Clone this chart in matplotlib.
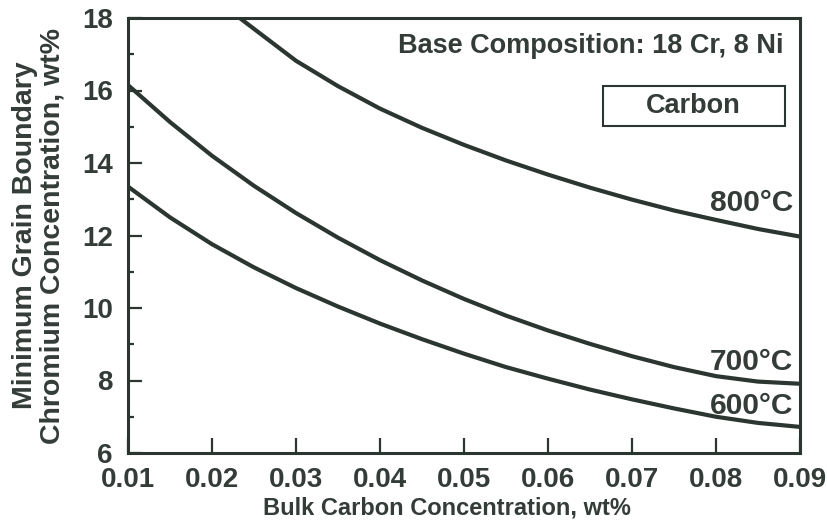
import matplotlib
matplotlib.use("Agg")
import matplotlib.pyplot as plt
from matplotlib.patches import Rectangle
from matplotlib.ticker import MultipleLocator

# ---- data ----
x_800 = [0.0233, 0.025, 0.03, 0.035, 0.04, 0.045, 0.05, 0.055, 0.06, 0.065, 0.07, 0.075, 0.08, 0.085, 0.09]
y_800 = [18.0, 17.7, 16.82, 16.12, 15.5, 14.97, 14.5, 14.07, 13.68, 13.32, 12.99, 12.69, 12.43, 12.18, 11.97]

x_700 = [0.01, 0.015, 0.02, 0.025, 0.03, 0.035, 0.04, 0.045, 0.05, 0.055, 0.06, 0.065, 0.07, 0.075, 0.08, 0.085, 0.09]
y_700 = [16.15, 15.13, 14.2, 13.37, 12.62, 11.94, 11.32, 10.76, 10.25, 9.79, 9.38, 9.01, 8.67, 8.37, 8.12, 7.97, 7.91]

x_600 = [0.01, 0.015, 0.02, 0.025, 0.03, 0.035, 0.04, 0.045, 0.05, 0.055, 0.06, 0.065, 0.07, 0.075, 0.08, 0.085, 0.09]
y_600 = [13.35, 12.5, 11.76, 11.12, 10.55, 10.04, 9.57, 9.14, 8.74, 8.37, 8.05, 7.75, 7.48, 7.23, 7.0, 6.83, 6.72]

series_labels = ["800°C", "700°C", "600°C"]
x_ticks = [0.01, 0.02, 0.03, 0.04, 0.05, 0.06, 0.07, 0.08, 0.09]
x_tick_labels = ["0.01", "0.02", "0.03", "0.04", "0.05", "0.06", "0.07", "0.08", "0.09"]
y_ticks = [6, 8, 10, 12, 14, 16, 18]

x_title = "Bulk Carbon Concentration, wt%"
y_title = "Minimum Grain Boundary\nChromium Concentration, wt%"
note_text = "Base Composition: 18 Cr, 8 Ni"
box_text = "Carbon"

# ---- style ----
INK = "#2c3631"
TXT = "#343c38"
plt.rcParams["font.family"] = ["Liberation Sans", "DejaVu Sans"]

fig = plt.figure(figsize=(8.28, 5.22), dpi=100)
ax = fig.add_axes([128 / 828, 69 / 522, 672 / 828, 435 / 522])

for xs, ys in [(x_800, y_800), (x_700, y_700), (x_600, y_600)]:
    ax.plot(xs, ys, color=INK, lw=3.0, solid_capstyle="butt", solid_joinstyle="round")

ax.set_xlim(0.01, 0.09)
ax.set_ylim(6, 18)
ax.set_xticks(x_ticks)
ax.set_xticklabels(x_tick_labels)
ax.set_yticks(y_ticks)
ax.yaxis.set_minor_locator(MultipleLocator(1))

for s in ax.spines.values():
    s.set_linewidth(2.2)
    s.set_color(INK)

ax.tick_params(axis="both", which="major", direction="in", color=INK, width=1.6,
               labelsize=20, labelcolor=TXT)
ax.tick_params(axis="x", which="major", length=11, pad=10)
ax.tick_params(axis="y", which="major", length=10, pad=11)
ax.tick_params(axis="y", which="minor", direction="in", length=4.5, width=1.6, color=INK)
ax.tick_params(top=False, right=False, which="both")
for lab in ax.get_xticklabels() + ax.get_yticklabels():
    lab.set_fontweight("bold")

ax.set_xlabel(x_title, fontsize=17, fontweight="bold", color=TXT, va="center")
ax.xaxis.set_label_coords(0.4747, -0.1265)
ax.set_ylabel(y_title, fontsize=20.5, fontweight="bold", color=TXT, linespacing=1.08,
              va="center", ha="center")
ax.yaxis.set_label_coords(-0.1324, 0.50)

# annotations
ax.text(0.976, 0.9347, note_text, transform=ax.transAxes, ha="right", va="center",
        fontsize=19.5, fontweight="bold", color=TXT)
ax.add_patch(Rectangle((0.7064, 0.7506), 0.2713, 0.0921, transform=ax.transAxes,
                       fill=False, edgecolor=INK, lw=1.5))
ax.text(0.8408, 0.798, box_text, transform=ax.transAxes, ha="center", va="center",
        fontsize=19.5, fontweight="bold", color=TXT)

label_y = [0.575, 0.2093, 0.108]
for lab, yy in zip(series_labels, label_y):
    ax.text(0.9896, yy, lab, transform=ax.transAxes, ha="right", va="center",
            fontsize=21.5, fontweight="bold", color=TXT)

fig.savefig("out.png", dpi=100, facecolor="white")
